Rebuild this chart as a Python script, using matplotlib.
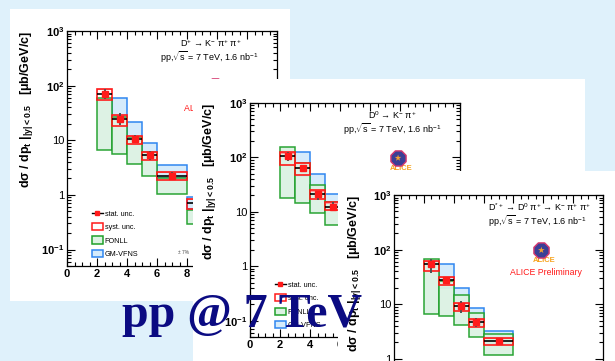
import numpy as np
import matplotlib.pyplot as plt
from matplotlib.patches import Rectangle, Patch
from matplotlib.lines import Line2D
from matplotlib.ticker import FixedLocator, FuncFormatter, MultipleLocator, LogLocator, NullFormatter

plt.rcParams['font.family'] = ['Liberation Sans', 'DejaVu Sans']
plt.rcParams['mathtext.fontset'] = 'custom'
plt.rcParams['mathtext.rm'] = 'Liberation Sans'
plt.rcParams['mathtext.it'] = 'Liberation Sans:italic'
plt.rcParams['mathtext.bf'] = 'Liberation Sans:bold'

nan = np.nan

# D+ -> K- pi+ pi+
dp_edges = [2, 3, 4, 5, 6, 8, 12]
dp_val = [70, 25, 10.5, 5.3, 2.25, 0.7]
dp_stat_lo = [56, 19, 8.8, 4.4, 1.95, 0.6]
dp_stat_hi = [88, 31, 12.3, 6.3, 2.6, 0.8]
dp_syst_lo = [55, 18.6, 8.5, 4.35, 1.9, 0.56]
dp_syst_hi = [87, 29, 12.1, 6.1, 2.65, 0.85]
dp_fonll_lo = [6.7, 5.6, 3.7, 2.25, 1.05, 0.29]
dp_fonll_hi = [59, 27, 11.5, 6.0, 2.0, 0.54]
dp_gm_lo = [nan, 25, 10, 4.5, 2.0, 0.55]
dp_gm_hi = [nan, 59, 21.5, 9.1, 3.47, 0.9]

# D0 -> K- pi+
d0_edges = [2, 3, 4, 5, 6]
d0_val = [105, 64, 21, 12.5]
d0_stat_lo = [85, 55, 16.5, 10.5]
d0_stat_hi = [128, 74, 24, 15]
d0_syst_lo = [74, 48, 17.4, 10.6]
d0_syst_hi = [125, 79, 24.7, 15.1]
d0_fonll_lo = [18, 14.7, 9.7, 5.7]
d0_fonll_hi = [153, 79, 30.5, 15]
d0_gm_lo = [nan, 45, 24, 11]
d0_gm_hi = [nan, 125, 50, 21.5]

# D*+ -> D0 pi+ -> K- pi+ pi+
ds_edges = [2, 3, 4, 5, 6, 8]
ds_val = [54, 27.4, 9.2, 4.7, 2.12]
ds_stat_lo = [38, 23.5, 6.8, 3.9, 1.9]
ds_stat_hi = [66, 31, 11.5, 5.6, 2.35]
ds_syst_lo = [41, 23, 7.6, 3.9, 1.79]
ds_syst_hi = [62.5, 32, 10.6, 5.35, 2.45]
ds_fonll_lo = [6.7, 6.0, 4.2, 2.55, 1.2]
ds_fonll_hi = [67, 27, 14.5, 6.9, 2.87]
ds_gm_lo = [nan, 20, 8, 4.2, 1.9]
ds_gm_hi = [nan, 54, 20, 8.55, 3.26]

decay_texts = [r"D$^{+}$ → K$^{-}$ π$^{+}$ π$^{+}$",
               r"D$^{0}$ → K$^{-}$ π$^{+}$",
               r"D$^{*+}$ → D$^{0}$ π$^{+}$ → K$^{-}$ π$^{+}$ π$^{+}$"]
energy_text = r"pp,$\sqrt{\mathrm{s}}$ = 7 TeV, 1.6 nb$^{-1}$"
ylabel = r"dσ / dp$_{\mathbf{t}}$ $\mathbf{|_{|y|<0.5}}$   [μb/GeV/c]"
ytick_text = {0.1: r"$\mathbf{10^{-1}}$", 1: "1", 10: "10",
              100: r"$\mathbf{10^{2}}$", 1000: r"$\mathbf{10^{3}}$"}

BG = '#dff1fb'
GREEN, GREEN_F = '#1fa02a', '#dcf2e3'
BLUE, BLUE_F = '#2f86f0', '#d5ebfb'
RED = '#ff1a1a'

W, H = 615, 361
fig = plt.figure(figsize=(W / 100, H / 100), dpi=100)
fig.patch.set_facecolor(BG)


def px_box(x0, y0, x1, y1):
    return [x0 / W, (H - y1) / H, (x1 - x0) / W, (y1 - y0) / H]


def draw_panel(ax, edges, val, stat_lo, stat_hi, syst_lo, syst_hi,
               fonll_lo, fonll_hi, gm_lo, gm_hi):
    edges = np.array(edges, float)
    val = np.array(val, float)
    left = edges[:-1]
    wd = np.diff(edges)
    ctr = left + wd / 2
    gm_lo, gm_hi = np.array(gm_lo), np.array(gm_hi)
    ok = ~np.isnan(gm_lo)
    ax.bar(left[ok], (gm_hi - gm_lo)[ok], bottom=gm_lo[ok], width=wd[ok],
           align='edge', facecolor=BLUE_F, edgecolor=BLUE, lw=1.1)
    fonll_lo, fonll_hi = np.array(fonll_lo), np.array(fonll_hi)
    ax.bar(left, fonll_hi - fonll_lo, bottom=fonll_lo, width=wd, align='edge',
           facecolor=GREEN_F, edgecolor=GREEN, lw=1.1, alpha=0.95)
    syst_lo, syst_hi = np.array(syst_lo), np.array(syst_hi)
    # thin shaded band along the top of each syst box
    ax.bar(left, syst_hi * 0.06, bottom=syst_hi * 0.94, width=wd, align='edge',
           facecolor='#f7a0a0', edgecolor='none')
    ax.bar(left, syst_hi - syst_lo, bottom=syst_lo, width=wd, align='edge',
           fill=False, edgecolor=RED, lw=1.2)
    ax.hlines(val, left, edges[1:], color='black', lw=1.2)
    ax.errorbar(ctr, val, yerr=[val - np.array(stat_lo), np.array(stat_hi) - val],
                fmt='none', ecolor='#505050', elinewidth=1.4, capsize=0)
    ax.plot(ctr, val, 's', color=RED, ms=5, zorder=5)


def style_axes(ax):
    ax.set_yscale('log')
    ax.set_ylim(0.05, 1000)
    ax.set_xlim(0, 14)
    ax.xaxis.set_major_locator(MultipleLocator(2))
    ax.xaxis.set_minor_locator(MultipleLocator(0.5))
    ax.yaxis.set_major_locator(FixedLocator([0.1, 1, 10, 100, 1000]))
    ax.yaxis.set_minor_locator(LogLocator(subs=np.arange(2, 10)))
    ax.yaxis.set_minor_formatter(NullFormatter())
    ax.yaxis.set_major_formatter(FuncFormatter(lambda v, p: ytick_text.get(round(v, 3), '')))
    ax.tick_params(which='both', direction='in', top=True, right=True,
                   width=0.8, labelsize=8, pad=2)
    ax.tick_params(which='major', length=6)
    ax.tick_params(which='minor', length=3)
    for lab in ax.get_xticklabels():
        lab.set_fontweight('bold')
    for s in ax.spines.values():
        s.set_linewidth(0.9)
    ax.set_ylabel(ylabel, fontsize=9, fontweight='bold', loc='top')
    ax.yaxis.set_label_coords(-0.15, 1.0)


def annotate(ax, decay, decay_x, text_x):
    ax.text(decay_x, 0.947, decay, transform=ax.transAxes, fontsize=6.5, va='center')
    ax.text(text_x, 0.889, energy_text, transform=ax.transAxes, fontsize=6.5, va='center')
    ax.scatter([0.705], [0.765], s=140, marker='8', c='#3b3f96', edgecolors='#d8386e',
               lw=1.0, transform=ax.transAxes, zorder=6)
    ax.scatter([0.705], [0.765], s=25, marker='*', c='#f5a030', edgecolors='none',
               transform=ax.transAxes, zorder=7)
    ax.text(0.72, 0.72, 'ALICE', transform=ax.transAxes, color='#f7a21c',
            fontsize=5.5, fontweight='bold', ha='center', va='center')
    ax.text(0.557, 0.672, 'ALICE Preliminary', transform=ax.transAxes, color=RED,
            fontsize=6.3, va='center')
    handles = [Line2D([], [], color='black', lw=1, marker='s', mfc=RED, mec=RED, ms=3.5),
               Patch(facecolor='white', edgecolor=RED, lw=1.1),
               Patch(facecolor=GREEN_F, edgecolor=GREEN, lw=1.1),
               Patch(facecolor=BLUE_F, edgecolor=BLUE, lw=1.1)]
    ax.legend(handles, ['stat. unc.', 'syst. unc.', 'FONLL', 'GM-VFNS'],
              loc='upper left', bbox_to_anchor=(0.12, 0.24), frameon=False,
              fontsize=5.2, handlelength=1.45, handleheight=1.15,
              labelspacing=0.75, handletextpad=0.3, borderpad=0, borderaxespad=0)


panels = [
    dict(bg=(10, 9, 290, 301), ax=(67, 31, 277, 266), dx=0.538, tx=0.443,
         data=(dp_edges, dp_val, dp_stat_lo, dp_stat_hi, dp_syst_lo, dp_syst_hi,
               dp_fonll_lo, dp_fonll_hi, dp_gm_lo, dp_gm_hi)),
    dict(bg=(193, 79, 585, 380), ax=(250, 103, 460, 337), dx=0.562, tx=0.443,
         data=(d0_edges, d0_val, d0_stat_lo, d0_stat_hi, d0_syst_lo, d0_syst_hi,
               d0_fonll_lo, d0_fonll_hi, d0_gm_lo, d0_gm_hi)),
    dict(bg=(338, 171, 630, 380), ax=(394, 195, 603, 430), dx=0.448, tx=0.448,
         data=(ds_edges, ds_val, ds_stat_lo, ds_stat_hi, ds_syst_lo, ds_syst_hi,
               ds_fonll_lo, ds_fonll_hi, ds_gm_lo, ds_gm_hi)),
]

for k, p in enumerate(panels):
    x0, y0, x1, y1 = p['bg']
    fig.add_artist(Rectangle((x0 / W, (H - y1) / H), (x1 - x0) / W, (y1 - y0) / H,
                             transform=fig.transFigure, facecolor='white',
                             edgecolor='none', zorder=1 + 2 * k))
    ax = fig.add_axes(px_box(*p['ax']), zorder=2 + 2 * k)
    ax.set_facecolor('white')
    draw_panel(ax, *p['data'])
    style_axes(ax)
    annotate(ax, decay_texts[k], p['dx'], p['tx'])
    if k == 0:
        ax.text(0.53, 0.05, '± 7%', transform=ax.transAxes, fontsize=3.5, color='#444444')

fig.text(122 / W, (H - 327) / H, 'pp @ 7 TeV', fontsize=34.5, fontweight='bold',
         family='Liberation Serif', color='#0b0b82', va='baseline', zorder=20)

fig.savefig('out.png', dpi=100, facecolor=fig.get_facecolor())
